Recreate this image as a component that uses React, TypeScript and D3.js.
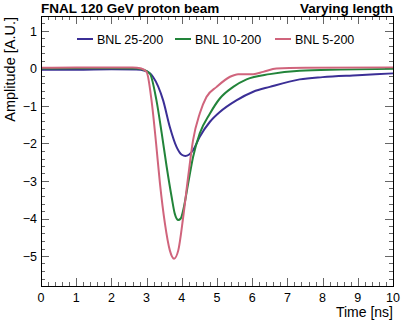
import React, { useRef, useEffect } from "react";
import * as d3 from "d3";

// [time (ns), amplitude]
const bnl25: [number, number][] = [
  [0, -0.03], [1, -0.03], [2, -0.02], [2.7, -0.03], [2.95, -0.06], [3.18, -0.22],
  [3.47, -0.85], [3.66, -1.56], [3.85, -2.09], [4.0, -2.3], [4.1, -2.33], [4.2, -2.3],
  [4.32, -2.18], [4.51, -1.82], [4.8, -1.42], [5.08, -1.16], [5.55, -0.85], [6.03, -0.62],
  [6.5, -0.49], [7.35, -0.29], [8, -0.23], [9, -0.18], [10, -0.13],
];
const bnl10: [number, number][] = [
  [0, 0.0], [1, 0.01], [2, 0.01], [2.7, 0.0], [2.9, -0.03], [3.09, -0.13], [3.28, -0.85],
  [3.43, -1.73], [3.57, -2.62], [3.71, -3.42], [3.8, -3.87], [3.9, -4.04], [3.97, -4.0],
  [4.04, -3.78], [4.18, -3.07], [4.32, -2.36], [4.51, -1.73], [4.8, -1.2], [5.08, -0.8],
  [5.46, -0.49], [5.84, -0.29], [6.5, -0.15], [7.35, -0.06], [8.5, -0.03], [10, -0.01],
];
const bnl5: [number, number][] = [
  [0, 0.02], [1, 0.03], [2, 0.03], [2.6, 0.03], [2.85, 0.0], [3.0, -0.09], [3.14, -0.85],
  [3.27, -2.0], [3.38, -3.07], [3.52, -4.13], [3.66, -4.85], [3.78, -5.07], [3.9, -4.85],
  [4.04, -3.96], [4.18, -2.89], [4.32, -1.91], [4.51, -1.2], [4.7, -0.76], [4.99, -0.49],
  [5.37, -0.22], [5.6, -0.15], [6.03, -0.15], [6.31, -0.09], [6.69, 0.0], [7.5, 0.02], [10, 0.03],
];

const seriesNames = ["BNL 25-200", "BNL 10-200", "BNL 5-200"];
const seriesColors = ["#3b2f96", "#22843a", "#d0647c"];
const seriesData = [bnl25, bnl10, bnl5];

const xTicks = d3.range(0, 11, 1);
const yTicks = [1, 0, -1, -2, -3, -4, -5];

const W = 415;
const H = 322;
const margin = { left: 41, right: 22, top: 16, bottom: 36 };
const font = "'Liberation Sans', Arial, Helvetica, sans-serif";

const App = () => {
  const svgRef = useRef<SVGSVGElement>(null);

  useEffect(() => {
    drawChart();
  }, []);

  const drawChart = () => {
    const svg = d3.select(svgRef.current);
    svgRef.current!.querySelectorAll("*").forEach((n) => n.remove());

    const x0 = margin.left, x1 = W - margin.right;
    const y0 = margin.top, y1 = H - margin.bottom;

    const xScale = d3.scaleLinear().domain([0, 10]).range([x0, x1]);
    const yScale = d3.scaleLinear().domain([-5.8, 1.4]).range([y1, y0]);

    // ticks on all four sides, ROOT style
    const ticks = svg.append("g").attr("stroke", "#666").attr("stroke-width", 1);
    const xMinor = d3.range(0, 10.001, 0.2);
    xMinor.forEach((v, i) => {
      const len = i % 5 === 0 ? 8 : 4;
      const px = Math.round(xScale(v)) + 0.5;
      ticks.append("line").attr("x1", px).attr("x2", px).attr("y1", y1).attr("y2", y1 - len);
      ticks.append("line").attr("x1", px).attr("x2", px).attr("y1", y0).attr("y2", y0 + len);
    });
    const yMinor = d3.range(-5.8, 1.401, 0.2);
    yMinor.forEach((v) => {
      const major = Math.abs(v - Math.round(v)) < 1e-6;
      const len = major ? 8 : 4;
      const py = Math.round(yScale(v)) + 0.5;
      ticks.append("line").attr("y1", py).attr("y2", py).attr("x1", x0).attr("x2", x0 + len);
      ticks.append("line").attr("y1", py).attr("y2", py).attr("x1", x1).attr("x2", x1 - len);
    });

    // curves
    const line = d3
      .line<[number, number]>()
      .x((d) => xScale(d[0]))
      .y((d) => yScale(d[1]))
      .curve(d3.curveMonotoneX);

    svg
      .append("g")
      .selectAll("path")
      .data(seriesData)
      .join("path")
      .attr("d", (d) => line(d))
      .attr("fill", "none")
      .attr("stroke", (_, i) => seriesColors[i])
      .attr("stroke-width", 2);

    // frame
    svg
      .append("rect")
      .attr("x", x0 + 0.5)
      .attr("y", y0 + 0.5)
      .attr("width", x1 - x0)
      .attr("height", y1 - y0)
      .attr("fill", "none")
      .attr("stroke", "#000")
      .attr("stroke-width", 1);

    // tick labels
    svg
      .append("g")
      .selectAll("text")
      .data(xTicks)
      .join("text")
      .attr("x", (d) => xScale(d))
      .attr("y", y1 + 16)
      .attr("text-anchor", "middle")
      .attr("font-family", font)
      .attr("font-size", 12.5)
      .text((d) => d);

    svg
      .append("g")
      .selectAll("text")
      .data(yTicks)
      .join("text")
      .attr("x", x0 - 4)
      .attr("y", (d) => yScale(d) + 4.5)
      .attr("text-anchor", "end")
      .attr("font-family", font)
      .attr("font-size", 12.5)
      .text((d) => (d < 0 ? "\u2212" + Math.abs(d) : d));

    // axis titles
    svg
      .append("text")
      .attr("x", x1)
      .attr("y", H - 5)
      .attr("text-anchor", "end")
      .attr("font-family", font)
      .attr("font-size", 14)
      .text("Time [ns]");

    svg
      .append("text")
      .attr("transform", `translate(15, ${y0 + 1}) rotate(-90)`)
      .attr("text-anchor", "end")
      .attr("font-family", font)
      .attr("font-size", 14.5)
      .text("Amplitude [A.U.]");

    // header
    svg
      .append("text")
      .attr("x", x0)
      .attr("y", 13)
      .attr("font-family", font)
      .attr("font-weight", "bold")
      .attr("font-size", 13.5)
      .text("FNAL 120 GeV proton beam");

    svg
      .append("text")
      .attr("x", x1)
      .attr("y", 13)
      .attr("text-anchor", "end")
      .attr("font-family", font)
      .attr("font-weight", "bold")
      .attr("font-size", 13.5)
      .text("Varying length");

    // legend
    const legendX = [77, 175, 275];
    const lg = svg
      .append("g")
      .selectAll("g")
      .data(seriesNames)
      .join("g")
      .attr("transform", (_, i) => `translate(${legendX[i]}, 39)`);
    lg.append("line")
      .attr("x1", 0)
      .attr("x2", 16)
      .attr("stroke", (_, i) => seriesColors[i])
      .attr("stroke-width", 2);
    lg.append("text")
      .attr("x", 20)
      .attr("y", 4.5)
      .attr("font-family", font)
      .attr("font-size", 12.5)
      .text((d) => d);
  };

  return (
    <div>
      <svg
        ref={svgRef}
        width={W}
        height={H}
        style={{ position: "absolute", left: 0, top: 0, background: "#fff" }}
      />
    </div>
  );
};

export default App;
